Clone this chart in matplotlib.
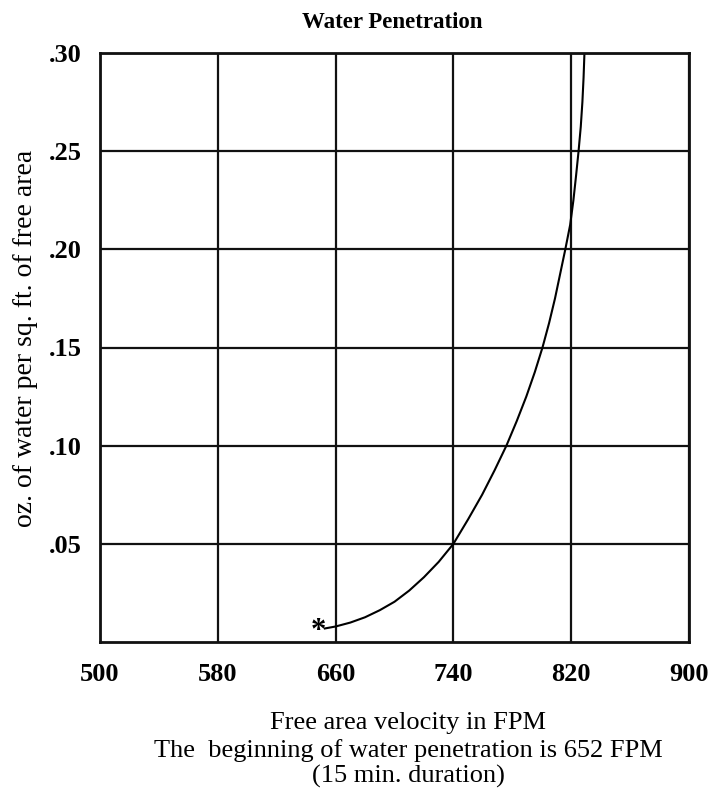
import matplotlib
matplotlib.use("Agg")
import matplotlib.pyplot as plt

# Data (curve traced point by point)
velocity = [652, 660, 670, 680, 690, 700, 710, 720, 730, 740,
            750, 759.5, 768, 776, 783, 789.5, 795.3, 800.5, 805, 809,
            812.5, 816, 819.3, 821.5, 823.3, 825, 826.5, 827.6, 828.4, 829]
water = [0.0068, 0.0079, 0.0099, 0.0126, 0.0162, 0.0205, 0.0262, 0.0330, 0.0408, 0.05,
         0.0625, 0.075, 0.0875, 0.10, 0.1125, 0.125, 0.1375, 0.15, 0.1625, 0.175,
         0.1875, 0.20, 0.2125, 0.225, 0.2375, 0.25, 0.2625, 0.275, 0.2875, 0.30]
start_marker = (648.5, 0.0055)
x_ticks = [500, 580, 660, 740, 820, 900]
x_tick_labels = ["500", "580", "660", "740", "820", "900"]
y_ticks = [0.05, 0.10, 0.15, 0.20, 0.25, 0.30]
y_tick_labels = [".05", ".10", ".15", ".20", ".25", ".30"]

plt.rcParams['font.family'] = ['Liberation Serif', 'DejaVu Serif']

W, H = 724, 802
fig = plt.figure(figsize=(W / 100, H / 100), dpi=100)
ax = fig.add_axes([100 / W, 1 - 642 / H, 589 / W, 589 / H])

ax.set_xlim(500, 900)
ax.set_ylim(0, 0.30)
ax.set_xticks(x_ticks)
ax.set_xticklabels(x_tick_labels, fontsize=19, fontweight='bold')
ax.set_yticks(y_ticks)
ax.set_yticklabels(y_tick_labels, fontsize=19, fontweight='bold')
ax.tick_params(length=0)
ax.tick_params(axis='y', pad=13)
ax.tick_params(axis='x', pad=15)
ax.grid(True, color='#111111', linewidth=1.6)
ax.set_axisbelow(True)
for s in ax.spines.values():
    s.set_linewidth(2.0)
    s.set_color('#111111')

ax.plot(velocity, water, color='black', linewidth=1.5, solid_capstyle='butt')
ax.text(start_marker[0], start_marker[1], "*", fontsize=22, fontweight='bold',
        ha='center', va='center')

fig.text(392 / W, 1 - 28 / H, "Water Penetration", fontsize=16.5, fontweight='bold',
         ha='center', va='baseline')
fig.text(26 / W, 1 - 338 / H, "oz. of water per sq. ft. of free area", fontsize=20,
         rotation=90, ha='center', va='center')

cx = 408 / W
fig.text(cx, 1 - 729 / H, "Free area velocity in FPM", fontsize=19, ha='center', va='baseline')
fig.text(cx, 1 - 757 / H, "The  beginning of water penetration is 652 FPM", fontsize=19,
         ha='center', va='baseline')
fig.text(cx, 1 - 783 / H, "(15 min. duration)", fontsize=19, ha='center', va='baseline')

fig.savefig("out.png", dpi=100)
